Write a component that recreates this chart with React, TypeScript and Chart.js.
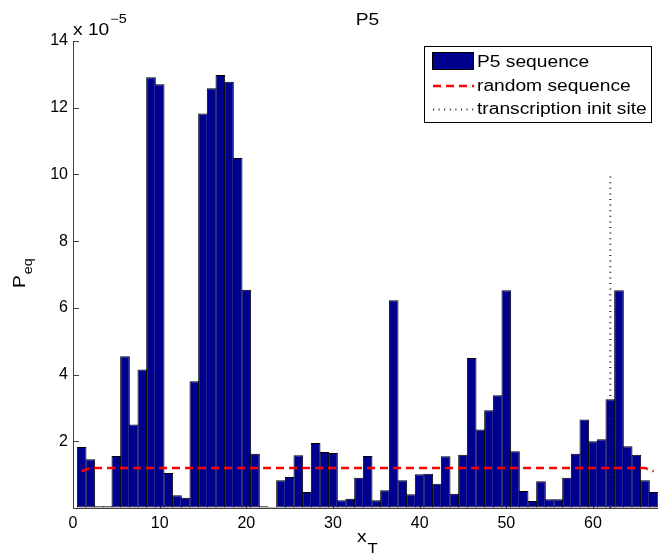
import { useEffect, useRef } from 'react';
import { Chart, registerables } from 'chart.js';

Chart.register(...registerables);

// bar positions x_T = 1..67
const positions = Array.from({ length: 67 }, (_, i) => i + 1);

// P_eq of the P5 sequence, in units of 1e-5
const p5Values = [
  1.83, 1.46, 0.05, 0.05, 1.56, 4.55, 2.5, 4.15, 12.91, 12.7,
  1.05, 0.38, 0.31, 3.8, 11.83, 12.58, 12.98, 12.78, 10.49, 6.54,
  1.63, 0.05, 0.03, 0.83, 0.93, 1.58, 0.48, 1.95, 1.68, 1.65,
  0.23, 0.28, 0.91, 1.56, 0.23, 0.53, 6.23, 0.83, 0.41, 1.01,
  1.03, 0.73, 1.55, 0.43, 1.6, 4.5, 2.35, 2.93, 3.38, 6.53,
  1.7, 0.51, 0.21, 0.8, 0.26, 0.26, 0.91, 1.63, 2.65, 2.0,
  2.06, 3.26, 6.53, 1.85, 1.6, 0.83, 0.48,
];

// P_eq of a random sequence, in units of 1e-5
const randomValues = [
  1.1, 1.2, 1.2, 1.2, 1.2, 1.2, 1.2, 1.2, 1.2, 1.2,
  1.2, 1.2, 1.2, 1.2, 1.2, 1.2, 1.2, 1.2, 1.2, 1.2,
  1.2, 1.2, 1.2, 1.2, 1.2, 1.2, 1.2, 1.2, 1.2, 1.2,
  1.2, 1.2, 1.2, 1.2, 1.2, 1.2, 1.2, 1.2, 1.2, 1.2,
  1.2, 1.2, 1.2, 1.2, 1.2, 1.2, 1.2, 1.2, 1.2, 1.2,
  1.2, 1.2, 1.2, 1.2, 1.2, 1.2, 1.2, 1.2, 1.2, 1.2,
  1.2, 1.2, 1.2, 1.2, 1.2, 1.2, 1.1,
];

// transcription initiation site
const tssPosition = 62;
const tssRange = [0, 10];

const xTicks = [0, 10, 20, 30, 40, 50, 60];
const yTicks = [0, 2, 4, 6, 8, 10, 12, 14];

const seriesLabels = ['P5 sequence', 'random sequence', 'transcription init site'];
const titleText = 'P5';

const FONT = '"Liberation Sans", Arial, Helvetica, sans-serif';
const STRETCH = 1.2;

function sText(ctx: CanvasRenderingContext2D, text: string, x: number, y: number, size: number, align: CanvasTextAlign = 'left') {
  ctx.save();
  ctx.font = `${size}px ${FONT}`;
  ctx.translate(x, y);
  ctx.scale(STRETCH, 1);
  ctx.textAlign = align;
  ctx.textBaseline = 'alphabetic';
  ctx.fillStyle = '#000';
  ctx.fillText(text, 0, 0);
  const w = ctx.measureText(text).width * STRETCH;
  ctx.restore();
  return w;
}

const decorPlugin = {
  id: 'decor',
  beforeDatasetsDraw(chart: any) {
    const ctx = chart.ctx as CanvasRenderingContext2D;
    const { left, bottom } = chart.chartArea;
    const xs = chart.scales.x;
    const ys = chart.scales.y;
    ctx.save();
    ctx.strokeStyle = '#404040';
    ctx.lineWidth = 1;
    ctx.beginPath();
    for (const t of ys.ticks) {
      const py = Math.round(ys.getPixelForValue(t.value)) + 0.5;
      ctx.moveTo(left, py);
      ctx.lineTo(left + 6, py);
    }
    for (const t of xs.ticks) {
      const px = Math.round(xs.getPixelForValue(t.value)) + 0.5;
      ctx.moveTo(px, bottom);
      ctx.lineTo(px, bottom - 6);
    }
    ctx.stroke();
    ctx.restore();
  },
  afterDraw(chart: any) {
    const ctx = chart.ctx as CanvasRenderingContext2D;
    const { left, right } = chart.chartArea;
    // title
    sText(ctx, titleText, (left + right) / 2 + 2, 25, 16, 'center');
    // exponent
    const w = sText(ctx, 'x 10', left, 35, 16);
    sText(ctx, '\u22125', left + w + 1, 23, 12);
    // x label
    const wx = sText(ctx, 'x', 357, 542, 16);
    sText(ctx, 'T', 357 + wx + 1, 553, 14);
    // y label (rotated)
    ctx.save();
    ctx.translate(25, 288);
    ctx.rotate(-Math.PI / 2);
    const wp = sText(ctx, 'P', 0, 0, 16);
    sText(ctx, 'eq', wp + 1, 7, 12);
    ctx.restore();

    // legend
    const bx = 424.5, by = 46.5, bw = 227, bh = 76;
    ctx.save();
    ctx.fillStyle = '#fff';
    ctx.fillRect(bx, by, bw, bh);
    ctx.strokeStyle = '#000';
    ctx.lineWidth = 1;
    ctx.strokeRect(bx, by, bw, bh);
    // patch
    ctx.fillStyle = '#00008F';
    ctx.fillRect(432.5, 52.5, 41, 17);
    ctx.strokeRect(432.5, 52.5, 41, 17);
    // dashed
    ctx.strokeStyle = '#FF0000';
    ctx.lineWidth = 2.5;
    ctx.setLineDash([8, 5]);
    ctx.beginPath();
    ctx.moveTo(433, 86);
    ctx.lineTo(474, 86);
    ctx.stroke();
    // dotted
    ctx.strokeStyle = '#222';
    ctx.lineWidth = 2;
    ctx.setLineDash([1, 4.6]);
    ctx.beginPath();
    ctx.moveTo(433, 109.5);
    ctx.lineTo(474, 109.5);
    ctx.stroke();
    ctx.restore();
    sText(ctx, seriesLabels[0], 477, 67, 16);
    sText(ctx, seriesLabels[1], 477, 90.5, 16);
    sText(ctx, seriesLabels[2], 477, 114, 16);
  },
};

export default function App() {
  const ref = useRef<HTMLCanvasElement | null>(null);

  useEffect(() => {
    if (!ref.current) return;
    const chart = new Chart(ref.current, {
      type: 'bar',
      data: {
        datasets: [
          {
            type: 'line',
            label: seriesLabels[2],
            data: tssRange.map((y) => ({ x: tssPosition, y })),
            borderColor: '#222',
            borderWidth: 2,
            borderDash: [1, 4.6],
            pointRadius: 0,
            fill: false,
            order: 1,
          } as any,
          {
            type: 'line',
            label: seriesLabels[1],
            data: positions.map((x, i) => ({ x, y: randomValues[i] })),
            borderColor: '#FF0000',
            borderWidth: 2.5,
            borderDash: [8, 5],
            pointRadius: 0,
            fill: false,
            tension: 0,
            order: 2,
          } as any,
          {
            type: 'bar',
            label: seriesLabels[0],
            data: positions.map((x, i) => ({ x, y: p5Values[i] })),
            backgroundColor: '#00008F',
            borderColor: '#000',
            borderWidth: 1,
            borderSkipped: false,
            barPercentage: 1.115,
            categoryPercentage: 1,
            order: 3,
          } as any,
        ],
      },
      options: {
        responsive: false,
        animation: false,
        devicePixelRatio: 1,
        layout: { padding: { top: 41, right: 0, left: 0, bottom: 0 } },
        plugins: {
          legend: { display: false },
          tooltip: { enabled: false },
          title: { display: false },
        },
        scales: {
          x: {
            type: 'linear',
            min: 0,
            max: 67.5,
            offset: false,
            grid: { display: true, drawOnChartArea: false, drawTicks: false, offset: false },
            border: { display: true, color: '#404040', width: 1 },
            ticks: {
              color: '#000',
              font: { size: 16, family: FONT },
              padding: 6,
              maxRotation: 0,
              autoSkip: false,
            },
            afterBuildTicks: (s: any) => {
              s.ticks = xTicks.map((v) => ({ value: v }));
            },
            afterFit: (s: any) => {
              s.height = 48;
            },
          },
          y: {
            type: 'linear',
            min: 0,
            max: 14,
            grid: { display: true, drawOnChartArea: false, drawTicks: false },
            border: { display: true, color: '#404040', width: 1 },
            ticks: {
              color: '#000',
              font: { size: 16, family: FONT },
              padding: 5,
              callback: (v: any) => (v === 0 ? '' : String(v)),
            },
            afterBuildTicks: (s: any) => {
              s.ticks = yTicks.map((v) => ({ value: v }));
            },
            afterFit: (s: any) => {
              s.width = 73;
            },
          },
        },
      } as any,
      plugins: [decorPlugin],
    });
    return () => chart.destroy();
  }, []);

  return (
    <div style={{ position: 'fixed', left: 0, top: 0, width: 658, height: 556, background: '#fff' }}>
      <canvas ref={ref} width={658} height={556} style={{ display: 'block' }} />
    </div>
  );
}
